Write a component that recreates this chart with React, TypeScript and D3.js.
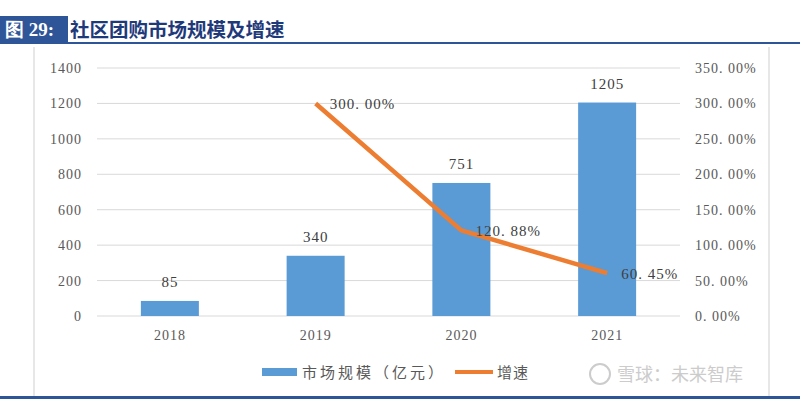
import React from "react";
import * as d3 from "d3";

const categories = ["2018", "2019", "2020", "2021"];
const marketSize = [85, 340, 751, 1205];
const growthYears = ["2019", "2020", "2021"];
const growthRate = [300.0, 120.88, 60.45];
const leftTicks = [0, 200, 400, 600, 800, 1000, 1200, 1400];
const rightTicks = [0, 50, 100, 150, 200, 250, 300, 350];

const W = 800, H = 401;
const plot = { left: 97, right: 680, top: 68, bottom: 316 };
const BLUE = "#5B9BD5";
const ORANGE = "#ED7D31";
const numFont = "'Liberation Serif', 'DejaVu Serif', serif";
const cjk = "'Noto Sans CJK SC', sans-serif";

export default function App() {
  const xc = d3.scaleBand().domain(categories).range([plot.left, plot.right]);
  const yL = d3.scaleLinear().domain([0, 1400]).range([plot.bottom, plot.top]);
  const yR = d3.scaleLinear().domain([0, 350]).range([plot.bottom, plot.top]);
  const center = (c: string) => (xc(c) as number) + xc.bandwidth() / 2;
  const bw = 58;
  const line = d3.line<number>().x((_, i) => center(growthYears[i])).y((d) => yR(d));

  return (
    <svg width={W} height={H} style={{ position: "absolute", left: 0, top: 0, background: "#fff" }}>
      {/* title */}
      <rect x={0} y={16} width={68} height={27} fill="#2E5597" />
      <text x={5} y={36} fill="#fff" fontFamily={"'Liberation Serif', serif"} fontWeight="bold" fontSize={19}>图 29:</text>
      <text x={70} y={37} fill="#1F3A7A" fontFamily={cjk} fontWeight="bold" fontSize={19.5}>社区团购市场规模及增速</text>
      <rect x={0} y={42} width={800} height={2} fill="#2E5597" />
      {/* frame lines */}
      <line x1={34} y1={47} x2={34} y2={396} stroke="#cfcfcf" strokeWidth={1} />
      <line x1={769} y1={47} x2={769} y2={396} stroke="#cfcfcf" strokeWidth={1} />
      <rect x={0} y={396} width={800} height={3} fill="#2E5597" />

      {/* gridlines */}
      {leftTicks.map((t) => (
        <line key={t} x1={plot.left} x2={plot.right} y1={yL(t)} y2={yL(t)} stroke="#d9d9d9" strokeWidth={1} />
      ))}
      {/* left axis labels */}
      {leftTicks.map((t) => (
        <text key={t} x={82} y={yL(t) + 5} textAnchor="end" fontFamily={numFont} fontSize={14} fill="#595959" letterSpacing={1}>{t}</text>
      ))}
      {/* right axis labels */}
      {rightTicks.map((t) => (
        <text key={t} x={695} y={yR(t) + 5} textAnchor="start" fontFamily={numFont} fontSize={14} fill="#595959" letterSpacing={1}>{t.toFixed(2).replace(".", ". ")}%</text>
      ))}
      {/* x labels */}
      {categories.map((c) => (
        <text key={c} x={center(c)} y={340} textAnchor="middle" fontFamily={numFont} fontSize={14} fill="#595959" letterSpacing={1}>{c}</text>
      ))}
      {/* bars */}
      {categories.map((c, i) => (
        <rect key={c} x={center(c) - bw / 2} y={yL(marketSize[i])} width={bw} height={plot.bottom - yL(marketSize[i])} fill={BLUE} />
      ))}
      {categories.map((c, i) => (
        <text key={c} x={center(c)} y={yL(marketSize[i]) - 14} textAnchor="middle" fontFamily={numFont} fontSize={15} fill="#404040" letterSpacing={1}>{marketSize[i]}</text>
      ))}
      {/* line */}
      <path d={line(growthRate) || ""} fill="none" stroke={ORANGE} strokeWidth={4.5} strokeLinejoin="round" />
      {growthRate.map((v, i) => (
        <text key={i} x={center(growthYears[i]) + 14} y={yR(v) + 6} textAnchor="start" fontFamily={numFont} fontSize={15} fill="#404040" letterSpacing={1}>{v.toFixed(2).replace(".", ". ")}%</text>
      ))}
      {/* legend */}
      <rect x={262} y={368} width={35} height={8} fill={BLUE} />
      <text x={302} y={378} fontFamily={cjk} fontSize={15} fill="#595959" letterSpacing={3}>市场规模（亿元）</text>
      <line x1={455} x2={493} y1={372} y2={372} stroke={ORANGE} strokeWidth={4} />
      <text x={497} y={378} fontFamily={cjk} fontSize={15} fill="#595959" letterSpacing={1}>增速</text>
      {/* watermark */}
      <circle cx={600} cy={374} r={10} fill="none" stroke="#cccccc" strokeWidth={2} />
      <text x={617} y={381} fontFamily={cjk} fontSize={18} fill="#cccccc">雪球：未来智库</text>
    </svg>
  );
}
